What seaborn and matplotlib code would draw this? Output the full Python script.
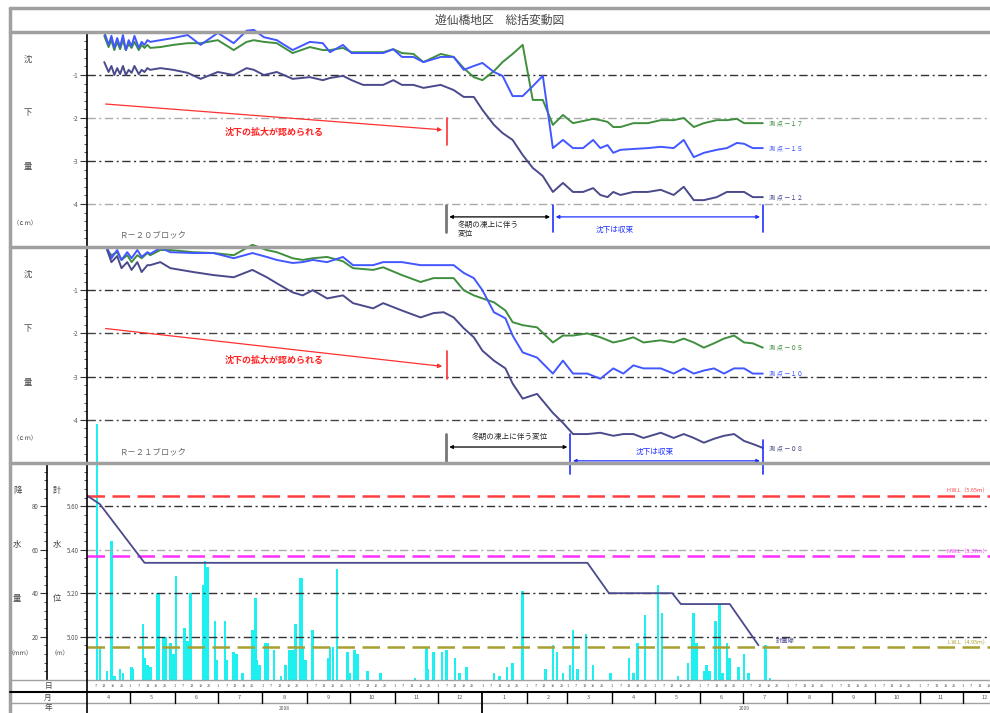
"""
遊仙橋地区 総括変動図 (settlement summary chart) redrawn with seaborn
"""
import numpy as np
import pandas as pd
import matplotlib
matplotlib.use("Agg")
import matplotlib.pyplot as plt
import matplotlib.dates as mdates
import matplotlib.transforms as mtransforms
from matplotlib.lines import Line2D
from matplotlib.ticker import MultipleLocator
import seaborn as sns

sns.set_theme(style="white")
plt.rcParams["font.family"] = ["Noto Sans CJK JP", "DejaVu Sans"]
plt.rcParams["axes.unicode_minus"] = False

BASE = pd.Timestamp("2008-04-01")
X_END = 628  # days shown after BASE

# ---- R-20 block: observation day (days since 2008-04-01) and settlement (cm)
r20_days = [12, 15, 17, 19, 21, 23, 25, 27, 29, 31, 33, 36, 38, 40, 42, 44,
            51, 60, 70, 79, 91, 102, 111, 116, 123, 132, 143, 155, 164, 169, 178,
            184, 192, 206, 213, 219, 227, 234, 246, 255, 262, 269, 275, 283, 289,
            296, 303, 310, 317, 324, 331, 338, 345, 352, 357, 362, 366, 371, 380,
            390, 399, 408, 415, 422, 429, 438, 445, 452, 457, 463, 470]
r20_pt17 = [-0.09, -0.35, -0.19, -0.42, -0.23, -0.40, -0.19, -0.42, -0.28, -0.37, -0.23, -0.42, -0.30, -0.37, -0.30, -0.37,
            -0.35, -0.30, -0.26, -0.26, -0.19, -0.42, -0.23, -0.19, -0.23, -0.26, -0.49, -0.35, -0.42, -0.42, -0.37,
            -0.47, -0.47, -0.47, -0.40, -0.49, -0.51, -0.70, -0.51, -0.58, -0.84, -1.05, -1.12, -0.91, -0.70,
            -0.51, -0.30, -1.58, -1.58, -2.16, -1.93, -2.12, -2.07, -2.02, -2.05, -2.09, -2.21, -2.21, -2.12,
            -2.12, -2.05, -2.05, -2.00, -2.21, -2.12, -2.05, -2.05, -2.02, -2.12, -2.12, -2.12]
r20_pt15 = [0.00, -0.30, -0.09, -0.37, -0.14, -0.35, -0.07, -0.42, -0.19, -0.33, -0.09, -0.37, -0.23, -0.30, -0.19, -0.23,
            -0.19, -0.14, -0.07, -0.30, -0.02, -0.26, 0.03, 0.05, -0.12, -0.19, -0.42, -0.23, -0.26, -0.47, -0.30,
            -0.49, -0.49, -0.49, -0.40, -0.58, -0.58, -0.70, -0.58, -0.58, -0.88, -0.79, -0.72, -0.93, -1.02,
            -1.49, -1.49, -1.26, -1.02, -2.70, -2.51, -2.70, -2.70, -2.51, -2.70, -2.63, -2.81, -2.74, -2.72,
            -2.70, -2.67, -2.70, -2.51, -2.91, -2.81, -2.74, -2.70, -2.58, -2.60, -2.70, -2.70]
r20_pt12 = [-0.70, -0.93, -0.79, -1.00, -0.84, -0.98, -0.79, -1.00, -0.88, -0.95, -0.79, -0.98, -0.88, -0.93, -0.84, -0.88,
            -0.84, -0.88, -0.95, -1.09, -0.93, -1.00, -0.84, -0.88, -1.00, -0.93, -1.09, -1.05, -1.12, -1.07, -1.02,
            -1.12, -1.23, -1.23, -1.12, -1.23, -1.23, -1.30, -1.23, -1.35, -1.51, -1.51, -1.81, -2.16, -2.35,
            -2.51, -2.86, -3.16, -3.35, -3.72, -3.51, -3.72, -3.72, -3.63, -3.79, -3.84, -3.72, -3.79, -3.72,
            -3.72, -3.67, -3.79, -3.60, -3.91, -3.91, -3.84, -3.72, -3.72, -3.72, -3.84, -3.84]
r20_labels = ["測 点 －１７", "測 点 －１５", "測 点 －１２"]

# ---- R-21 block
r21_days = [14, 17, 21, 24, 28, 31, 35, 38, 42, 44, 51, 58, 74, 88, 102, 115, 125, 132,
            143, 150, 157, 167, 178, 185, 199, 206, 219, 232, 241, 248, 255, 262, 269,
            275, 283, 291, 296, 303, 313, 324, 331, 338, 348, 357, 366, 373, 380, 387,
            399, 408, 415, 422, 429, 436, 443, 450, 457, 463, 470]
r21_pt05 = [-0.07, -0.19, -0.12, -0.30, -0.19, -0.35, -0.19, -0.26, -0.14, -0.19, -0.07, -0.07, -0.12, -0.14, -0.19,
            0.05, -0.07, -0.12, -0.26, -0.30, -0.26, -0.23, -0.33, -0.49, -0.53, -0.47, -0.65, -0.81, -0.72, -0.72,
            -0.72, -1.00, -1.12, -1.19, -1.28, -1.47, -1.74, -1.81, -1.86, -2.21, -2.05, -2.05, -2.00, -2.09, -2.21,
            -2.16, -2.09, -2.21, -2.16, -2.21, -2.12, -2.21, -2.33, -2.23, -2.12, -2.05, -2.21, -2.23, -2.33]
r21_pt10 = [-0.02, -0.26, -0.07, -0.30, -0.12, -0.26, -0.07, -0.23, -0.12, -0.16, -0.02, -0.12, -0.14, -0.14, -0.26,
            -0.14, -0.23, -0.30, -0.37, -0.35, -0.30, -0.35, -0.23, -0.42, -0.42, -0.35, -0.35, -0.42, -0.42, -0.42,
            -0.42, -0.60, -0.72, -1.00, -1.51, -1.65, -2.05, -2.44, -2.56, -2.93, -2.63, -2.93, -2.93, -3.05, -2.81,
            -2.93, -2.74, -2.81, -2.81, -2.93, -2.81, -2.93, -2.86, -2.81, -2.93, -2.81, -2.81, -2.93, -2.93]
r21_pt08 = [-0.07, -0.35, -0.21, -0.49, -0.35, -0.53, -0.35, -0.58, -0.42, -0.42, -0.35, -0.49, -0.58, -0.65, -0.70,
            -0.53, -0.70, -0.84, -1.05, -1.12, -1.00, -1.19, -1.12, -1.30, -1.42, -1.30, -1.47, -1.63, -1.53, -1.51,
            -1.63, -1.88, -2.09, -2.40, -2.63, -2.81, -3.16, -3.51, -3.40, -3.84, -4.07, -4.33, -4.33, -4.30, -4.37,
            -4.33, -4.33, -4.42, -4.30, -4.42, -4.33, -4.42, -4.53, -4.44, -4.37, -4.33, -4.49, -4.56, -4.65]
r21_labels = ["測 点 －０５", "測 点 －１０", "測 点 －０８"]

# ---- reservoir water level (m) and daily rainfall (mm)
wl_days = [0, 9, 40, 348, 363, 407, 413, 447, 467]
wl_level = [5.65, 5.61, 5.34, 5.34, 5.20, 5.20, 5.15, 5.15, 4.96]

rain_days = [7, 9, 14, 17, 19, 23, 25, 31, 32, 39, 40, 42, 44, 49, 50, 53, 55, 58, 60, 62,
             68, 70, 72, 81, 82, 84, 89, 90, 96, 97, 102, 104, 108, 115, 117, 118, 120, 124,
             126, 130, 135, 138, 141, 143, 145, 148, 149, 150, 152, 157, 168, 169, 171, 174,
             181, 183, 186, 188, 195, 204, 228, 236, 237, 241, 247, 250, 256, 259, 264, 283,
             287, 292, 296, 303, 319, 324, 327, 331, 336, 338, 341, 347, 352, 364, 377, 380,
             383, 388, 397, 400, 411, 418, 421, 422, 424, 429, 431, 433, 437, 440, 442, 445,
             447, 453, 457, 460, 472, 475]
rain_mm = [118, 15, 4, 64, 2, 5, 3, 6, 5, 26, 10, 7, 6, 40, 40, 20, 20, 17, 12, 48,
           24, 18, 40, 44, 55, 52, 27, 9, 27, 9, 13, 12, 3, 23, 38, 9, 7, 17,
           17, 14, 2, 7, 14, 14, 26, 47, 47, 15, 9, 23, 10, 15, 15, 51,
           13, 3, 14, 12, 4, 3, 1, 15, 5, 13, 13, 14, 10, 3, 6, 3,
           2, 6, 8, 41, 5, 16, 13, 3, 7, 23, 5, 21, 7, 3, 10, 3,
           17, 30, 44, 31, 2, 8, 20, 31, 17, 4, 7, 4, 27, 35, 3, 17,
           10, 6, 12, 3, 16, 1]

ref_levels = [5.65, 5.37, 4.95]
ref_labels = ["H.W.L（5.65ｍ）", "N.W.L（5.37ｍ）", "L.W.L（4.95ｍ）"]
ref_colors = ["#ff4040", "#ff30ff", "#a8a030"]

C_GREEN, C_BLUE, C_NAVY = "#3f8f3f", "#4257ff", "#4a4a8c"
C_CYAN = "#1ef0f0"


def to_dates(days):
    return BASE + pd.to_timedelta(np.asarray(days), unit="D")


def xd(day):
    return mdates.date2num(BASE + pd.Timedelta(days=day))


W, H = 990, 713
fig = plt.figure(figsize=(9.9, 7.13), dpi=100)
fig.patch.set_facecolor("white")


def fx(px):
    return px / W


def fy(py):
    return 1 - py / H


def rect(x0, y0, x1, y1):
    return [fx(x0), fy(y1), fx(x1) - fx(x0), fy(y0) - fy(y1)]


def fig_line(x0, y0, x1, y1, **kw):
    fig.add_artist(Line2D([fx(x0), fx(x1)], [fy(y0), fy(y1)], transform=fig.transFigure, **kw))


def fig_text(x, y, s, **kw):
    fig.text(fx(x), fy(y), s, ha="center", va="center", **kw)


ax1 = fig.add_axes(rect(87, 32, 990, 247))
ax2 = fig.add_axes(rect(87, 247, 990, 463))
axr = fig.add_axes(rect(87, 463, 990, 680))
axw = fig.add_axes(rect(87, 463, 990, 680))

DASHDOT = (0, (6, 2.5, 1.5, 2.5))


def style_panel(ax):
    ax.set_facecolor("none")
    for s in ["top", "right", "bottom"]:
        ax.spines[s].set_visible(False)
    ax.spines["left"].set_color("black")
    ax.spines["left"].set_linewidth(1.2)
    ax.set_xlim(xd(0), xd(X_END))
    ax.set_xticks([])
    ax.set_xlabel("")
    ax.set_ylabel("")
    ax.tick_params(axis="y", which="both", left=True, direction="out", color="#333",
                   labelsize=4.5, labelcolor="#555", pad=1)
    ax.tick_params(axis="y", which="major", length=5, width=0.8)
    ax.tick_params(axis="y", which="minor", length=2.5, width=0.6)


def settlement_panel(ax, days, series, labels, grid_colors):
    x = to_dates(days)
    for vals, c, lab in zip(series, [C_GREEN, C_BLUE, C_NAVY], labels):
        sns.lineplot(x=x, y=vals, ax=ax, color=c, linewidth=1.4)
        ax.text(xd(days[-1] + 4), vals[-1], lab, color=c, fontsize=4.5, va="center", ha="left")
    for ln in ax.lines:
        ln.set_clip_on(False)
    for lvl, gc in zip([-1, -2, -3, -4], grid_colors):
        ax.axhline(lvl, color=gc, lw=1.0, ls=DASHDOT, zorder=0)
    ax.set_ylim(-5, 0)
    ax.set_yticks([-1, -2, -3, -4])
    ax.set_yticklabels(["-1", "-2", "-3", "-4"])
    ax.yaxis.set_minor_locator(MultipleLocator(0.2))
    style_panel(ax)


settlement_panel(ax1, r20_days, [r20_pt17, r20_pt15, r20_pt12], r20_labels,
                 ["#333", "#aaa", "#333", "#aaa"])
settlement_panel(ax2, r21_days, [r21_pt05, r21_pt10, r21_pt08], r21_labels,
                 ["#333", "#444", "#333", "#444"])


def annotate_block(ax, red, winter, conv, text_winter, label, label_y):
    # red trend arrow + stop bar
    (r0, ry0, r1, ry1, bar0, bar1, ty) = red
    ax.annotate("", xy=(xd(r1), ry1), xytext=(xd(r0), ry0),
                arrowprops=dict(arrowstyle="-|>", color="#ff3030", lw=0.9, mutation_scale=6),
                annotation_clip=False)
    ax.plot([xd(r1 + 1.5)] * 2, [bar0, bar1], color="#ff3030", lw=1.2, clip_on=False)
    ax.text(xd(130), ty, "沈下の拡大が認められる", color="#ff2020", fontsize=6.5,
            ha="center", va="center", fontweight="bold")
    # winter frost-heave span
    (w0, w1, wy, wb0, wb1, wtx, wty, wha) = winter
    ax.plot([xd(w0)] * 2, [wb0, wb1], color="#777", lw=2, clip_on=False)
    ax.annotate("", xy=(xd(w1), wy), xytext=(xd(w0), wy),
                arrowprops=dict(arrowstyle="<|-|>", color="black", lw=0.9, mutation_scale=5),
                annotation_clip=False)
    ax.text(xd(wtx), wty, text_winter, fontsize=5.5, color="#222", ha=wha, va="top",
            linespacing=1.1)
    # converged span
    (c0, c1, cy, cb0, cb1, cb2, ctx, cty) = conv
    ax.plot([xd(c0)] * 2, [cb0, cb2], color="#2030ff", lw=1.2, clip_on=False)
    ax.plot([xd(c1)] * 2, [cb1, cb2], color="#2030ff", lw=1.2, clip_on=False)
    ax.annotate("", xy=(xd(c1), cy), xytext=(xd(c0), cy),
                arrowprops=dict(arrowstyle="<|-|>", color="#2030ff", lw=0.9, mutation_scale=5),
                annotation_clip=False)
    ax.text(xd(ctx), cty, "沈下は収束", fontsize=5.5, color="#2030ff", ha="center", va="center")
    ax.text(xd(23), label_y, label, fontsize=6, color="#666", ha="left", va="center")


annotate_block(ax1,
               red=(11, -1.67, 249, -2.28, -2.0, -2.63, -2.33),
               winter=(250, 324, -4.30, -4.02, -4.65, 258, -4.40, "left"),
               conv=(324, 470, -4.30, -4.02, -4.02, -4.65, 367, -4.60),
               text_winter="冬期の凍上に伴う\n変位",
               label="Ｒ－２０ブロック", label_y=-4.72)
annotate_block(ax2,
               red=(11, -1.88, 249, -2.77, -2.40, -3.05, -2.63),
               winter=(250, 336, -4.63, -4.33, -4.95, 294, -4.30, "center"),
               conv=(336, 470, -4.95, -4.33, -4.47, -5.25, 395, -4.74),
               text_winter="冬期の凍上に伴う変位",
               label="Ｒ－２１ブロック", label_y=-4.74)

# ---- rainfall / water level panel
axr.bar(to_dates(rain_days), rain_mm, width=1.8, color=C_CYAN, linewidth=0,
        clip_on=False, zorder=2)
axr.set_ylim(0, 100)
axr.set_yticks([20, 40, 60, 80])
axr.yaxis.set_minor_locator(MultipleLocator(4))
style_panel(axr)
axr.spines["left"].set_position(("axes", -40 / 903))

sns.lineplot(x=to_dates(wl_days), y=wl_level, ax=axw, color=C_NAVY, linewidth=1.3)
for lvl, gc in zip([5.60, 5.40, 5.20, 5.00], ["#333", "#aaa", "#333", "#333"]):
    axw.axhline(lvl, color=gc, lw=1.0, ls=DASHDOT, zorder=0)
for lvl, lab, c in zip(ref_levels, ref_labels, ref_colors):
    axw.axhline(lvl, color=c, lw=1.8, ls=(0, (7, 3)), zorder=1)
    axw.text(0.998, lvl + 0.01, lab, color=c, fontsize=4, ha="right", va="bottom",
             transform=mtransforms.blended_transform_factory(axw.transAxes, axw.transData))
axw.text(xd(wl_days[-1] + 12), wl_level[-1] + 0.02, "計画線", color=C_NAVY, fontsize=4.5,
         ha="left", va="center")
axw.set_ylim(4.80, 5.80)
axw.set_yticks([5.00, 5.20, 5.40, 5.60])
axw.set_yticklabels(["5.00", "5.20", "5.40", "5.60"])
axw.yaxis.set_minor_locator(MultipleLocator(0.04))
style_panel(axw)

# ---- frame, title and row labels
GREY = "#a0a0a0"
for yy in [8, 32, 247, 463]:
    fig_line(10, yy, 990, yy, color=GREY, lw=2.5)
fig_line(10, 8, 10, 713, color=GREY, lw=2.5)
fig_line(10, 680, 990, 680, color=GREY, lw=1)
fig_line(10, 692, 990, 692, color="black", lw=1.5)
fig_line(10, 703, 990, 703, color=GREY, lw=1)
fig_line(87, 680, 87, 713, color="black", lw=1.2)
fig_text(500, 20, "遊仙橋地区　総括変動図", fontsize=8.5, color="#444")

for y0 in [32, 247]:
    for k, ch in enumerate(["沈", "下", "量"]):
        fig_text(28, y0 + 27 + 54 * k, ch, fontsize=6, color="#444")
    fig_text(25, y0 + 190, "（ｃｍ）", fontsize=4.5, color="#444")
for k, (a, b) in enumerate([("降", "計"), ("水", "水"), ("量", "位")]):
    fig_text(17, 491 + 54 * k, a, fontsize=6, color="#444")
    fig_text(57, 491 + 54 * k, b, fontsize=6, color="#444")
fig_text(20, 652, "（ｍｍ）", fontsize=4.5, color="#444")
fig_text(60, 652, "（ｍ）", fontsize=4.5, color="#444")
for yy, ch in [(686, "日"), (697.5, "月"), (708, "年")]:
    fig_text(48, yy, ch, fontsize=5.5, color="#444")

# ---- date rows (day / month / year)
trans = mtransforms.blended_transform_factory(axw.transData, fig.transFigure)
months = pd.date_range("2008-04-01", "2009-12-01", freq="MS")
for m in months:
    x = mdates.date2num(m)
    if m > BASE:
        is_year = m.month == 1
        fig.add_artist(Line2D([x, x], [fy(692), fy(713 if is_year else 703)], transform=trans,
                              color="black", lw=1.3 if is_year else 1))
    fig.text(mdates.date2num(m + pd.Timedelta(days=15)), fy(697.5), str(m.month), transform=trans,
             fontsize=4, color="#555", ha="center", va="center")
    for d in [1, 7, 13, 19, 25]:
        dd = m + pd.Timedelta(days=d - 1)
        if BASE < dd < BASE + pd.Timedelta(days=X_END):
            fig.text(mdates.date2num(dd), fy(686), str(d), transform=trans, fontsize=2.8,
                     color="#555", ha="center", va="center")
for yr, mid in [("2008", "2008-08-16"), ("2009", "2009-07-02")]:
    fig.text(mdates.date2num(pd.Timestamp(mid)), fy(708), yr, transform=trans, fontsize=3.5,
             color="#555", ha="center", va="center")

fig.savefig("out.png", dpi=100)
